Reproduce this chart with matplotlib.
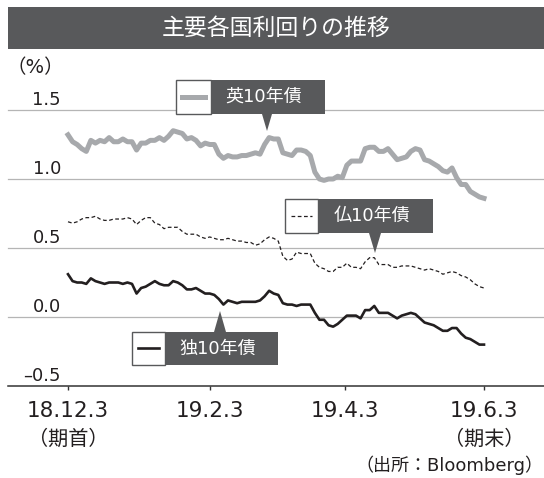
import matplotlib
matplotlib.use('Agg')
import matplotlib.pyplot as plt
import matplotlib.dates as mdates
import matplotlib.transforms as mtransforms
from matplotlib.patches import Rectangle, Polygon
from matplotlib.lines import Line2D
import pandas as pd

plt.rcParams['font.family'] = ['DejaVu Sans', 'Noto Sans CJK JP']

# every other day, 18.12.3 -> 19.6.3
dates = pd.date_range('2018-12-03', '2019-06-03', freq='2D')

uk = [1.32, 1.27, 1.25, 1.22, 1.20, 1.28, 1.26, 1.28, 1.27, 1.30,
      1.27, 1.27, 1.29, 1.27, 1.27, 1.21, 1.26, 1.26, 1.28, 1.28,
      1.30, 1.28, 1.31, 1.35, 1.34, 1.33, 1.29, 1.30, 1.28, 1.24,
      1.26, 1.25, 1.25, 1.18, 1.15, 1.17, 1.16, 1.16, 1.17, 1.17,
      1.18, 1.19, 1.18, 1.25, 1.30, 1.29, 1.29, 1.19, 1.18, 1.17,
      1.21, 1.21, 1.20, 1.17, 1.05, 1.00, 0.99, 1.00, 1.00, 1.02,
      1.01, 1.10, 1.13, 1.13, 1.13, 1.22, 1.23, 1.23, 1.20, 1.20,
      1.22, 1.18, 1.14, 1.15, 1.16, 1.20, 1.22, 1.21, 1.14, 1.13,
      1.11, 1.09, 1.06, 1.05, 1.08, 1.01, 0.96, 0.96, 0.91, 0.89,
      0.87, 0.86]

fr = [0.69, 0.68, 0.69, 0.71, 0.72, 0.72, 0.73, 0.71, 0.70, 0.70,
      0.71, 0.71, 0.71, 0.72, 0.71, 0.67, 0.70, 0.72, 0.72, 0.68,
      0.67, 0.64, 0.65, 0.65, 0.65, 0.62, 0.60, 0.60, 0.60, 0.58,
      0.57, 0.58, 0.57, 0.56, 0.56, 0.57, 0.56, 0.55, 0.55, 0.54,
      0.54, 0.52, 0.53, 0.56, 0.58, 0.57, 0.55, 0.44, 0.41, 0.42,
      0.47, 0.46, 0.46, 0.46, 0.39, 0.36, 0.35, 0.33, 0.33, 0.36,
      0.36, 0.39, 0.36, 0.36, 0.35, 0.40, 0.43, 0.43, 0.38, 0.38,
      0.38, 0.36, 0.36, 0.37, 0.37, 0.37, 0.36, 0.35, 0.34, 0.35,
      0.34, 0.33, 0.31, 0.32, 0.33, 0.32, 0.30, 0.29, 0.27, 0.24,
      0.22, 0.21]

de = [0.31, 0.26, 0.25, 0.25, 0.24, 0.28, 0.26, 0.25, 0.24, 0.25,
      0.25, 0.25, 0.24, 0.25, 0.24, 0.17, 0.21, 0.22, 0.24, 0.26,
      0.24, 0.23, 0.23, 0.26, 0.25, 0.23, 0.20, 0.20, 0.21, 0.19,
      0.17, 0.17, 0.16, 0.13, 0.09, 0.12, 0.11, 0.10, 0.11, 0.11,
      0.11, 0.11, 0.12, 0.15, 0.19, 0.17, 0.16, 0.10, 0.09, 0.09,
      0.08, 0.09, 0.09, 0.09, 0.03, -0.02, -0.02, -0.06, -0.07, -0.05,
      -0.02, 0.01, 0.01, 0.01, -0.01, 0.05, 0.05, 0.08, 0.03, 0.03,
      0.03, 0.01, -0.01, 0.01, 0.02, 0.03, 0.02, -0.01, -0.04, -0.05,
      -0.06, -0.08, -0.10, -0.10, -0.08, -0.08, -0.12, -0.15, -0.16, -0.18,
      -0.20, -0.20]

tick_dates = ['2018-12-03', '2019-02-03', '2019-04-03', '2019-06-03']
tick_labels = ['18.12.3', '19.2.3', '19.4.3', '19.6.3']
tick_notes = ['（期首）', '', '', '（期末）']
yticks = [-0.5, 0.0, 0.5, 1.0, 1.5]
ytick_labels = ['–0.5', '0.0', '0.5', '1.0', '1.5']

title = '主要各国利回りの推移'
source = '（出所：Bloomberg）'

W, H = 544, 478
DARK = '#58595b'
INK = '#231f20'
UK_GRAY = '#a7a9ac'

fig = plt.figure(figsize=(W / 100, H / 100), dpi=100)
fig.patch.set_facecolor('white')
# pixel coords, origin top-left
pix = mtransforms.Affine2D().scale(1 / W, -1 / H).translate(0, 1) + fig.transFigure

ax_top, ax_bot = 110, 386
ax = fig.add_axes([8 / W, 1 - ax_bot / H, (W - 8) / W, (ax_bot - ax_top) / H])
ax.set_ylim(-0.5, 1.5)
start = mdates.date2num(pd.Timestamp(tick_dates[0]))
end = mdates.date2num(pd.Timestamp(tick_dates[-1]))
pad = (end - start) * 60 / 416
ax.set_xlim(start - pad, end + pad)

for s in ['top', 'left', 'right']:
    ax.spines[s].set_visible(False)
ax.spines['bottom'].set_color('#333333')
ax.spines['bottom'].set_linewidth(1.1)
for y in yticks[1:]:
    ax.axhline(y, color='#b5b5b5', lw=0.9, zorder=0, clip_on=False)

ax.set_yticks([])
ax.set_xticks([mdates.date2num(pd.Timestamp(d)) for d in tick_dates])
ax.set_xticklabels([])
ax.tick_params(axis='x', direction='out', length=3, width=1, colors='#333333')

ax.plot(dates, uk, color=UK_GRAY, lw=3.6, solid_joinstyle='round', zorder=3)
ax.plot(dates, fr, color=INK, lw=0.9, linestyle=(0, (3, 2)), zorder=3)
ax.plot(dates, de, color=INK, lw=1.9, solid_joinstyle='round', zorder=3)

# y labels sit just above their gridline
for v, lab in zip(yticks, ytick_labels):
    ax.text((61 - 8) / (W - 8), v + 5 / 138, lab, transform=ax.get_yaxis_transform(),
            ha='right', va='baseline', fontsize=13, color=INK)

def py(y):
    return (ax_bot - y) / (ax_bot - ax_top)

for d, lab, note in zip(tick_dates, tick_labels, tick_notes):
    x = mdates.date2num(pd.Timestamp(d))
    ax.text(x, py(417), lab, transform=ax.get_xaxis_transform(), ha='center',
            va='baseline', fontsize=15.5, color=INK, clip_on=False)
    if note:
        ax.text(x, py(445), note, transform=ax.get_xaxis_transform(), ha='center',
                va='baseline', fontsize=14.5, color=INK, clip_on=False)

# title bar
fig.add_artist(Rectangle((8, 7), W - 8, 42, transform=pix, color=DARK, lw=0))
fig.text(276, 28, title, transform=pix, ha='center', va='center', color='white',
         fontsize=16.5, family=['Noto Sans CJK JP'])
fig.text(35, 68, '（%）', transform=pix, ha='center', va='center', fontsize=14, color=INK)
fig.text(543, 465, source, transform=pix, ha='right', va='center', fontsize=13, color=INK)


def callout(left, top, mid, right, bottom, tip, half, label, line_kw):
    fig.add_artist(Rectangle((left, top), mid - left, bottom - top, transform=pix,
                             facecolor='white', edgecolor=DARK, lw=1, zorder=5))
    fig.add_artist(Rectangle((mid, top), right - mid, bottom - top, transform=pix,
                             facecolor=DARK, lw=0, zorder=5))
    base = bottom if tip[1] > bottom else top
    fig.add_artist(Polygon([(tip[0] - half, base), (tip[0] + half, base), tip],
                           closed=True, transform=pix, facecolor=DARK, lw=0, zorder=5))
    ym = (top + bottom) / 2
    fig.add_artist(Line2D([left + 6, mid - 6], [ym, ym], transform=pix, zorder=6, **line_kw))
    fig.text((mid + right) / 2 - 4, ym, label, transform=pix, ha='center', va='center',
             color='white', fontsize=13, zorder=7)


callout(176, 80, 211, 325, 114, (267, 131), 5, '英10年債',
        dict(color=UK_GRAY, lw=3.6))
callout(285, 199, 318, 433, 233, (375, 253), 6, '仏10年債',
        dict(color=INK, lw=0.9, linestyle=(0, (3, 2))))
callout(132, 332, 165, 278, 365, (220, 311), 6, '独10年債',
        dict(color=INK, lw=1.9))

fig.savefig('out.png', dpi=100, facecolor='white')
